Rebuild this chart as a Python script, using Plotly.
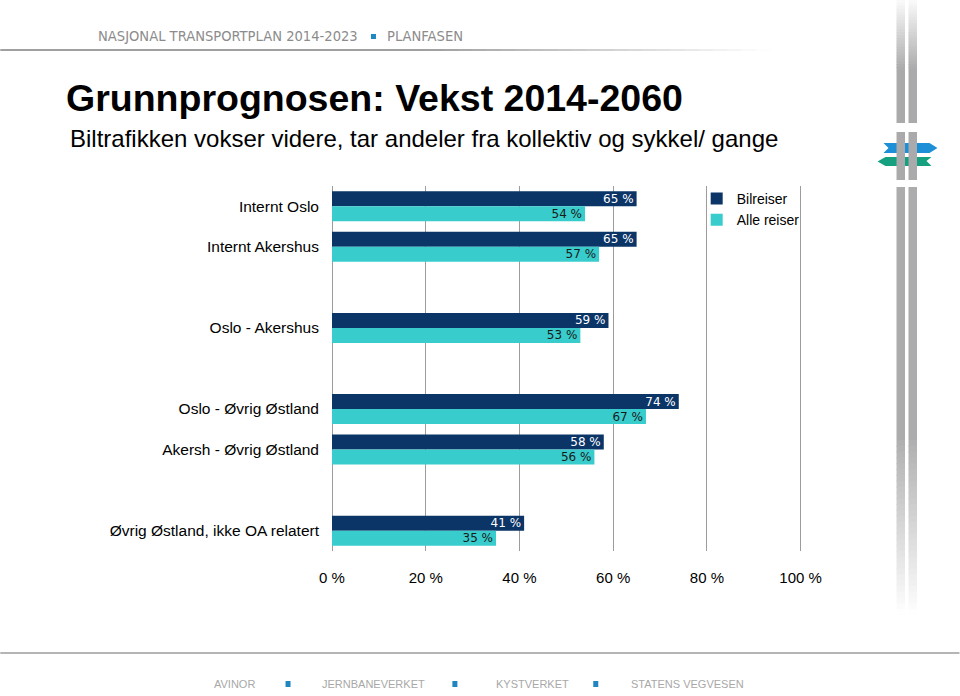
import plotly.graph_objects as go

# ---- data ----
categories = ["Internt Oslo", "Internt Akershus", "Oslo - Akershus",
              "Oslo - Øvrig Østland", "Akersh - Øvrig Østland",
              "Øvrig Østland, ikke OA relatert"]
bilreiser = [65, 65, 59, 74, 58, 41]
alle_reiser = [54, 57, 53, 67, 56, 35]
category_order = ["Internt Oslo", "Internt Akershus", " ", "Oslo - Akershus", "  ",
                  "Oslo - Øvrig Østland", "Akersh - Øvrig Østland", "   ",
                  "Øvrig Østland, ikke OA relatert"]
x_ticks = [0, 20, 40, 60, 80, 100]
x_ticktext = ["0 %", "20 %", "40 %", "60 %", "80 %", "100 %"]

W, H = 960, 696
XMAX = 100.3
ML, MT, MB = 332, 186, 145
MR = W - (332 + 469 * XMAX / 100)
PW, PH = W - ML - MR, H - MT - MB


def px(x):
    return (x - ML) / PW


def py(y):
    return (H - MB - y) / PH


NAVY = "#0B3467"
TURQ = "#38CCCC"

fig = go.Figure()
fig.add_trace(go.Bar(
    y=categories, x=bilreiser, orientation="h", name="Bilreiser",
    marker=dict(color=NAVY, line=dict(width=0)),
    texttemplate="%{x} %", textposition="inside", insidetextanchor="end",
    constraintext="none",
    textfont=dict(family="DejaVu Sans, Verdana, sans-serif", size=12, color="white"),
))
fig.add_trace(go.Bar(
    y=categories, x=alle_reiser, orientation="h", name="Alle reiser",
    marker=dict(color=TURQ, line=dict(width=0)),
    texttemplate="%{x} %", textposition="inside", insidetextanchor="end",
    constraintext="none",
    textfont=dict(family="DejaVu Sans, Verdana, sans-serif", size=12, color="#1a1a1a"),
))

shapes = []
annotations = []

HEADFONT = dict(family="DejaVu Sans Condensed, Liberation Sans Narrow, sans-serif", size=14.6,
                color="#8c8c8c")
# header
annotations.append(dict(x=px(96), y=py(36), xref="paper", yref="paper", xanchor="left", yanchor="middle",
                        text="NASJONAL TRANSPORTPLAN 2014-2023", showarrow=False, font=HEADFONT))
annotations.append(dict(x=px(385), y=py(36), xref="paper", yref="paper", xanchor="left", yanchor="middle",
                        text="PLANFASEN", showarrow=False, font=HEADFONT))
shapes.append(dict(type="rect", xref="paper", yref="paper", x0=px(371), x1=px(376), y0=py(39), y1=py(34),
                   fillcolor="#1F86C0", line=dict(width=0)))


def blend(hexcol, t):
    """t=1 -> colour, t=0 -> white"""
    r, g, b = int(hexcol[1:3], 16), int(hexcol[3:5], 16), int(hexcol[5:7], 16)
    f = lambda c: int(round(255 + (c - 255) * t))
    return "rgb({},{},{})".format(f(r), f(g), f(b))


# header line with fade
shapes.append(dict(type="line", xref="paper", yref="paper", x0=px(0), x1=px(431), y0=py(50), y1=py(50),
                   line=dict(color="#a0a0a0", width=2)))
nseg = 24
for i in range(nseg):
    x0 = 430 + (770 - 430) * i / nseg
    x1 = 430 + (770 - 430) * (i + 1) / nseg + 1
    shapes.append(dict(type="line", xref="paper", yref="paper", x0=px(x0), x1=px(x1), y0=py(50), y1=py(50),
                       line=dict(color=blend("#a0a0a0", 1 - (i + 0.5) / nseg), width=2)))

# title & subtitle
annotations.append(dict(x=px(64), y=py(98), xref="paper", yref="paper", xanchor="left", yanchor="middle",
                        text="<b>Grunnprognosen: Vekst 2014-2060</b>", showarrow=False,
                        font=dict(family="Liberation Sans, Arial, sans-serif", size=37.5, color="#000000")))
annotations.append(dict(x=px(68), y=py(138), xref="paper", yref="paper", xanchor="left", yanchor="middle",
                        text="Biltrafikken vokser videre, tar andeler fra kollektiv og sykkel/ gange", showarrow=False,
                        font=dict(family="Liberation Sans, Arial, sans-serif", size=24, color="#000000")))

# logo arrows
blue_path = "M {} {} L {} {} L {} {} L {} {} L {} {} L {} {} Z".format(
    px(884), py(143), px(930), py(143), px(938), py(148), px(930), py(153), px(884), py(153), px(889), py(148))
green_path = "M {} {} L {} {} L {} {} L {} {} L {} {} L {} {} Z".format(
    px(886), py(157), px(932), py(157), px(927), py(161), px(932), py(166), px(886), py(166), px(878), py(161.5))
shapes.append(dict(type="path", xref="paper", yref="paper", path=blue_path, fillcolor="#1C8FD6", line=dict(width=0)))
shapes.append(dict(type="path", xref="paper", yref="paper", path=green_path, fillcolor="#15A080", line=dict(width=0)))

# right vertical bars with fade
BAR_X = [(897, 905.5), (909, 917.5)]
BARGRAY = "#a6a6a8"


def vbar(y0, y1, t0, t1, n=1):
    for i in range(n):
        a = y0 + (y1 - y0) * i / n
        b = y0 + (y1 - y0) * (i + 1) / n
        if i < n - 1:
            b += 1
        t = t0 + (t1 - t0) * (i + 0.5) / n
        for (xa, xb) in BAR_X:
            shapes.append(dict(type="rect", xref="paper", yref="paper", x0=px(xa), x1=px(xb),
                               y0=py(b), y1=py(a), fillcolor=blend(BARGRAY, t), line=dict(width=0)))


vbar(0, 70, 0.05, 0.95, 24)
vbar(70, 123, 0.95, 0.95, 1)
vbar(132, 180, 0.95, 0.95, 1)
vbar(187, 440, 0.97, 0.9, 1)
vbar(440, 615, 0.9, 0.0, 30)

# footer line and text
shapes.append(dict(type="line", xref="paper", yref="paper", x0=px(0), x1=px(960), y0=py(653), y1=py(653),
                   line=dict(color="#b5b5b5", width=2)))
footer_items = [("AVINOR", 212), ("JERNBANEVERKET", 320), ("KYSTVERKET", 494), ("STATENS VEGVESEN", 629)]
for txt, xl in footer_items:
    annotations.append(dict(x=px(xl), y=py(684), xref="paper", yref="paper", xanchor="left", yanchor="middle",
                            text=txt, showarrow=False,
                            font=dict(family="Liberation Sans, Arial, sans-serif",
                                      size=11, color="#a8a8a8")))
for xs in (288, 455, 596):
    shapes.append(dict(type="rect", xref="paper", yref="paper", x0=px(xs - 2.5), x1=px(xs + 2.5),
                       y0=py(687), y1=py(681), fillcolor="#1F86C0", line=dict(width=0)))

fig.update_layout(
    width=W, height=H,
    margin=dict(l=ML, r=MR, t=MT, b=MB, autoexpand=False),
    paper_bgcolor="white", plot_bgcolor="white",
    barmode="group", bargap=0.26, bargroupgap=0,
    showlegend=True,
    legend=dict(x=px(697), y=py(183), xanchor="left", yanchor="top", bgcolor="rgba(0,0,0,0)",
                font=dict(family="Liberation Sans, Arial, sans-serif", size=14, color="#000000"),
                tracegroupgap=0, itemwidth=30),
    xaxis=dict(range=[0, XMAX], tickvals=x_ticks, ticktext=x_ticktext, showgrid=True,
               gridcolor="#9c9c9c", gridwidth=1.3, zeroline=True, zerolinecolor="#9c9c9c", zerolinewidth=1.3,
               showline=False, ticks="", ticklabelstandoff=16, fixedrange=True,
               tickfont=dict(family="Liberation Sans, Arial, sans-serif", size=15, color="#000000")),
    yaxis=dict(type="category", categoryorder="array", categoryarray=category_order,
               autorange="reversed", showgrid=False, zeroline=False, showline=False, ticks="",
               ticklabelstandoff=12, fixedrange=True,
               tickfont=dict(family="Liberation Sans, Arial, sans-serif", size=15.5, color="#000000")),
    shapes=shapes, annotations=annotations,
)

fig.write_html("out.html", config={"displayModeBar": False},
               post_script="document.body.style.margin='0px';")
